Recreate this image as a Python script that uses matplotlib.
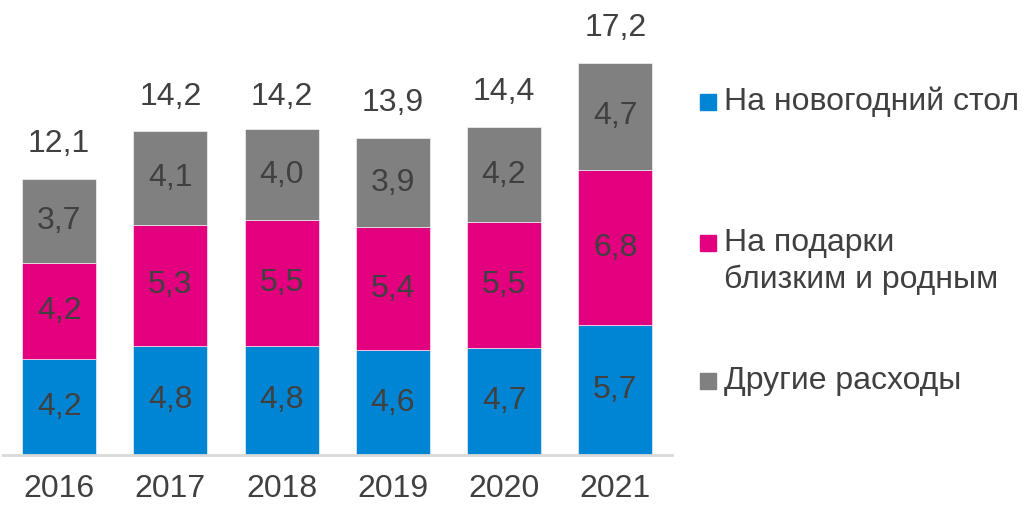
import matplotlib.pyplot as plt
from matplotlib.patches import Rectangle
import numpy as np

plt.rcParams['font.family'] = ['Liberation Sans', 'DejaVu Sans']

# Данные
years = ["2016", "2017", "2018", "2019", "2020", "2021"]
stol = [4.2, 4.8, 4.8, 4.6, 4.7, 5.7]
podarki = [4.2, 5.3, 5.5, 5.4, 5.5, 6.8]
drugie = [3.7, 4.1, 4.0, 3.9, 4.2, 4.7]
totals = [12.1, 14.2, 14.2, 13.9, 14.4, 17.2]
series_names = [["На новогодний стол"], ["На подарки", "близким и родным"], ["Другие расходы"]]
colors = ["#0085D5", "#E2007E", "#808080"]
text_color = "#404040"
fs = 23

fig = plt.figure(figsize=(10.25, 5.08), dpi=100)
ax = fig.add_axes([3 / 1025, 1 - 455 / 508, 669 / 1025, 455 / 508])

x = np.arange(len(years))
bottom = np.zeros(len(years))
for vals, c in zip([stol, podarki, drugie], colors):
    ax.bar(x, vals, width=0.665, bottom=bottom, color=c,
           edgecolor="white", linewidth=0.4)
    for xi, b, v in zip(x, bottom, vals):
        ax.text(xi, b + v / 2, f"{v:.1f}".replace(".", ","), ha="center", va="center",
                fontsize=fs, color=text_color)
    bottom += np.array(vals)

# Итоги над столбцами
for xi, t in zip(x, totals):
    ax.annotate(f"{t:.1f}".replace(".", ","), (xi, t), xytext=(0, 25),
                textcoords="offset points", ha="center", va="center",
                fontsize=fs, color=text_color)

ax.set_xlim(-0.505, 5.51)
ax.set_ylim(0, 455 / 22.8)
ax.set_xticks(x)
ax.set_xticklabels(years, fontsize=fs, color=text_color)
ax.tick_params(axis="x", length=0, pad=14)
ax.set_yticks([])
for s in ["top", "right", "left"]:
    ax.spines[s].set_visible(False)
ax.spines["bottom"].set_color("#d9d9d9")
ax.spines["bottom"].set_linewidth(2)
ax.patch.set_alpha(0)

# Легенда вручную
legend_y = [102, 243, 381]
for lines, c, yy in zip(series_names, colors, legend_y):
    fy = 1 - yy / 508
    fig.add_artist(Rectangle((700 / 1025, fy - 8 / 508), 16 / 1025, 16 / 508,
                             transform=fig.transFigure, color=c))
    for i, line in enumerate(lines):
        fig.text(724 / 1025, fy - i * 37 / 508, line, ha="left", va="center",
                 fontsize=fs, color=text_color)

fig.savefig("out.png", dpi=100)
